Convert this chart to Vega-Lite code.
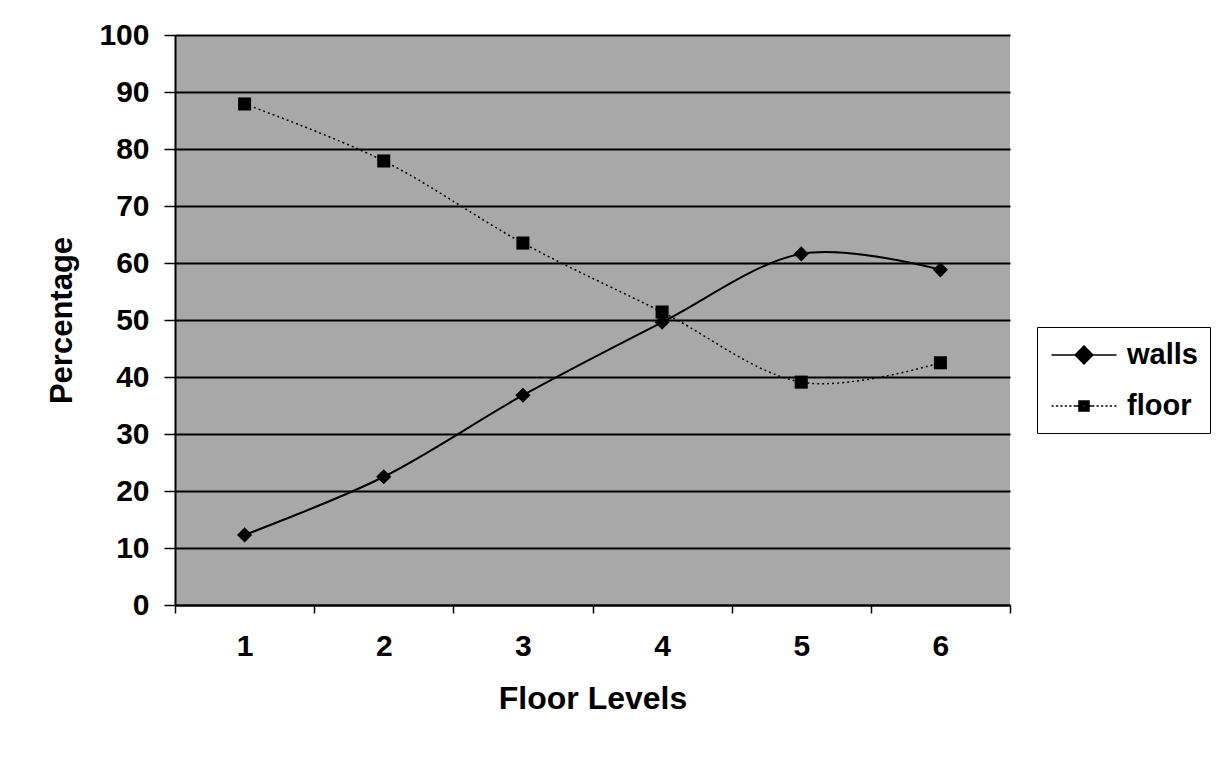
{
  "$schema": "https://vega.github.io/schema/vega-lite/v6.json",
  "autosize": "none",
  "width": 835,
  "height": 570,
  "padding": {"left": 175, "top": 35, "right": 211, "bottom": 159},
  "background": "white",
  "config": {
    "view": {"fill": "#a8a8a8", "stroke": null},
    "font": "Liberation Sans"
  },
  "data": {
    "values": [
      {"level": "1", "series": "walls", "value": 12.3},
      {"level": "2", "series": "walls", "value": 22.5},
      {"level": "3", "series": "walls", "value": 36.8},
      {"level": "4", "series": "walls", "value": 49.6},
      {"level": "5", "series": "walls", "value": 61.6},
      {"level": "6", "series": "walls", "value": 58.8},
      {"level": "1", "series": "floor", "value": 87.9},
      {"level": "2", "series": "floor", "value": 77.9},
      {"level": "3", "series": "floor", "value": 63.5},
      {"level": "4", "series": "floor", "value": 51.4},
      {"level": "5", "series": "floor", "value": 39.1},
      {"level": "6", "series": "floor", "value": 42.5}
    ]
  },
  "encoding": {
    "x": {
      "field": "level", "type": "ordinal",
      "scale": {"type": "band", "paddingInner": 0, "paddingOuter": 0},
      "axis": {
        "title": "Floor Levels", "labelAngle": 0, "tickBand": "extent",
        "domainColor": "black", "domainWidth": 2, "tickColor": "black", "tickWidth": 1.5, "tickSize": 8,
        "labelFontSize": 30, "labelFontWeight": "bold", "labelColor": "black", "labelPadding": 18,
        "titleFontSize": 32, "titleFontWeight": "bold", "titleColor": "black", "titlePadding": 22
      }
    },
    "y": {
      "field": "value", "type": "quantitative",
      "scale": {"domain": [0, 100], "nice": false},
      "axis": {
        "title": "Percentage", "values": [0,10,20,30,40,50,60,70,80,90,100],
        "grid": true, "gridColor": "black", "gridWidth": 1.8, "gridOpacity": 1,
        "domainColor": "black", "domainWidth": 2, "tickColor": "black", "tickWidth": 1.5, "tickSize": 11,
        "labelFontSize": 30, "labelFontWeight": "bold", "labelColor": "black", "labelPadding": 15,
        "titleFontSize": 31, "titleFontWeight": "bold", "titleColor": "black", "titlePadding": 20
      }
    }
  },
  "layer": [
    {
      "transform": [{"filter": "datum.series === 'walls'"}],
      "mark": {"type": "line", "interpolate": "cardinal", "color": "black", "strokeWidth": 2},
      "encoding": {}
    },
    {
      "transform": [{"filter": "datum.series === 'floor'"}],
      "mark": {"type": "line", "interpolate": "cardinal", "color": "black", "strokeWidth": 1.5, "strokeDash": [2, 3]},
      "encoding": {}
    },
    {
      "transform": [{"filter": "datum.series === 'walls'"}],
      "mark": {"type": "point", "shape": "diamond", "size": 230, "filled": true, "color": "black", "opacity": 1}
    },
    {
      "transform": [{"filter": "datum.series === 'floor'"}],
      "mark": {"type": "point", "shape": "square", "size": 170, "filled": true, "color": "black", "opacity": 1}
    },
    {
      "mark": {"type": "point", "filled": false, "color": "black", "opacity": 0, "size": 872, "strokeWidth": 1.5},
      "encoding": {
        "shape": {
          "field": "series", "type": "nominal",
          "scale": {
            "domain": ["walls", "floor"],
            "range": [
              "M-2.2,0H2.2M0,-0.6L0.6,0L0,0.6L-0.6,0ZM0,-0.5L0.5,0L0,0.5L-0.5,0ZM0,-0.4L0.4,0L0,0.4L-0.4,0ZM0,-0.3L0.3,0L0,0.3L-0.3,0ZM0,-0.2L0.2,0L0,0.2L-0.2,0ZM0,-0.1L0.1,0L0,0.1L-0.1,0Z",
              "M-2.2,0H-2.05M-1.9,0H-1.75M-1.6,0H-1.45M-1.3,0H-1.15M-1.0,0H-0.85M-0.7,0H-0.36M0.36,0H0.7M0.85,0H1.0M1.15,0H1.3M1.45,0H1.6M1.75,0H1.9M2.05,0H2.2M-0.34,-0.34H0.34V0.34H-0.34ZM-0.26,-0.26H0.26V0.26H-0.26ZM-0.18,-0.18H0.18V0.18H-0.18ZM-0.1,-0.1H0.1V0.1H-0.1ZM-0.04,0H0.04"
            ]
          },
          "legend": {
            "title": null, "orient": "none", "legendX": 862, "legendY": 292,
            "fillColor": "white", "strokeColor": "black", "padding": 12,
            "labelFontSize": 29, "labelFontWeight": "bold", "labelColor": "black", "labelFont": "Liberation Sans",
            "symbolSize": 872, "symbolFillColor": "black", "symbolStrokeColor": "black", "symbolStrokeWidth": 1.5,
            "symbolOpacity": 1, "symbolOffset": 19, "labelOffset": 27, "rowPadding": 20,
            "encode": {
              "symbols": {
                "update": {
                  "stroke": {"value": "black"},
                  "strokeWidth": {"value": 1.5},
                  "fill": {"value": "black"},
                  "opacity": {"value": 1},
                  "fillOpacity": {"value": 1},
                  "strokeOpacity": {"value": 1}
                }
              }
            }
          }
        }
      }
    }
  ]
}
